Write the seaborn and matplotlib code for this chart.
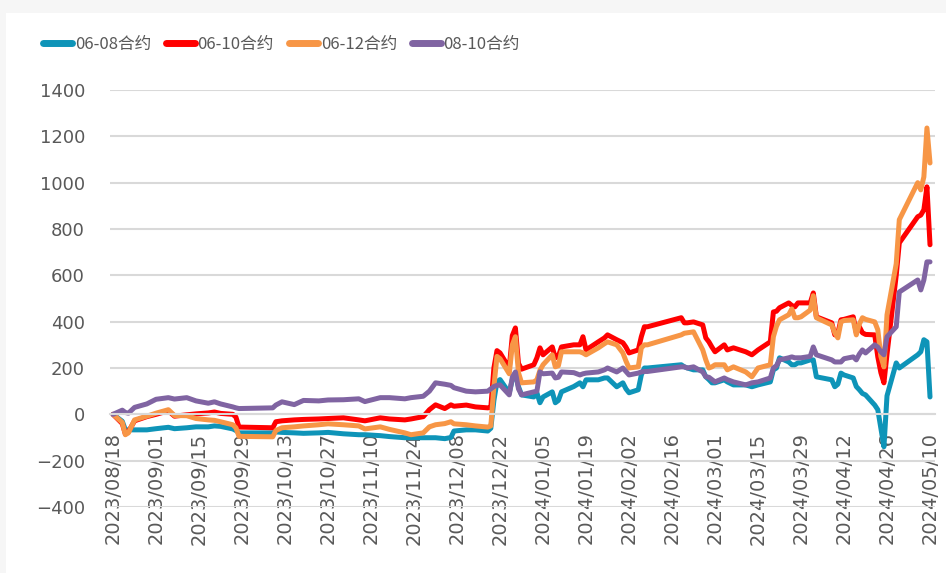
import pandas as pd
import matplotlib
matplotlib.use("Agg")
import matplotlib.pyplot as plt
import matplotlib.dates as mdates
from matplotlib.lines import Line2D
from matplotlib.patches import Rectangle
import seaborn as sns

# 交易日 (取关键点)
dates = [
    '2023-08-18', '2023-08-21', '2023-08-22', '2023-08-23', '2023-08-25', '2023-08-29',
    '2023-09-01', '2023-09-05', '2023-09-07', '2023-09-11', '2023-09-14', '2023-09-18',
    '2023-09-20', '2023-09-22', '2023-09-26', '2023-09-27', '2023-09-28', '2023-10-09',
    '2023-10-10', '2023-10-12', '2023-10-16', '2023-10-19', '2023-10-24', '2023-10-27',
    '2023-11-01', '2023-11-06', '2023-11-08', '2023-11-13', '2023-11-16', '2023-11-21',
    '2023-11-23', '2023-11-27', '2023-11-29', '2023-12-01', '2023-12-04', '2023-12-06',
    '2023-12-07', '2023-12-11', '2023-12-14', '2023-12-18', '2023-12-19', '2023-12-20',
    '2023-12-21', '2023-12-22', '2023-12-25', '2023-12-26', '2023-12-27', '2023-12-28',
    '2023-12-29', '2024-01-02', '2024-01-03', '2024-01-04', '2024-01-05', '2024-01-08',
    '2024-01-09', '2024-01-10', '2024-01-11', '2024-01-15', '2024-01-17', '2024-01-18',
    '2024-01-19', '2024-01-23', '2024-01-25', '2024-01-26', '2024-01-29', '2024-01-31',
    '2024-02-01', '2024-02-02', '2024-02-05', '2024-02-06', '2024-02-07', '2024-02-08',
    '2024-02-19', '2024-02-20', '2024-02-21', '2024-02-23', '2024-02-26', '2024-02-27',
    '2024-02-28', '2024-02-29', '2024-03-01', '2024-03-04', '2024-03-05', '2024-03-07',
    '2024-03-11', '2024-03-13', '2024-03-15', '2024-03-19', '2024-03-20', '2024-03-21',
    '2024-03-22', '2024-03-25', '2024-03-26', '2024-03-27', '2024-03-28', '2024-03-29',
    '2024-04-01', '2024-04-02', '2024-04-03', '2024-04-08', '2024-04-09', '2024-04-10',
    '2024-04-11', '2024-04-12', '2024-04-15', '2024-04-16', '2024-04-17', '2024-04-18',
    '2024-04-19', '2024-04-22', '2024-04-23', '2024-04-24', '2024-04-25', '2024-04-26',
    '2024-04-29', '2024-04-30', '2024-05-06', '2024-05-07', '2024-05-08', '2024-05-09',
    '2024-05-10',
]

spread_0608 = [
    0, -30, -67, -67, -67, -67,
    -62, -56, -62, -58, -54, -54,
    -50, -52, -63, -70, -80, -80,
    -76, -78, -80, -82, -80, -78,
    -84, -88, -88, -92, -96, -101,
    -101, -101, -101, -101, -105, -100,
    -72, -67, -67, -72, -60, 60,
    140, 150, 93, 150, 178, 120,
    84, 75, 93, 50, 75, 97,
    50, 60, 97, 120, 136, 119,
    149, 149, 157, 157, 119, 136,
    110, 93, 106, 170, 200, 200,
    214, 205, 200, 192, 192, 162,
    150, 136, 136, 149, 140, 127,
    127, 119, 127, 140, 192, 200,
    244, 226, 214, 214, 222, 222,
    235, 235, 162, 149, 119, 130,
    178, 170, 157, 120, 106, 90,
    84, 40, 20, -60, -140, 80,
    222, 200, 257, 270, 322, 313,
    75,
]

spread_0610 = [
    0, -40, -85, -75, -28, -10,
    0, 15, -8, -2, 2, 6,
    10, 4, 0, -12, -55, -58,
    -32, -28, -24, -22, -20, -18,
    -15, -24, -28, -15, -20, -24,
    -20, -10, 20, 41, 25, 41,
    35, 40, 32, 28, 30, 200,
    275, 265, 200, 340, 373, 220,
    195, 214, 244, 287, 257, 291,
    244, 250, 291, 300, 300, 335,
    278, 313, 330, 343, 322, 309,
    290, 265, 278, 335, 378, 378,
    417, 395, 395, 399, 386, 330,
    313, 290, 270, 300, 278, 287,
    270, 257, 278, 313, 442, 445,
    460, 481, 470, 464, 481, 481,
    481, 524, 421, 395, 343, 350,
    408, 410, 421, 352, 378, 352,
    345, 343, 248, 180, 136, 260,
    600, 740, 853, 860, 883, 982,
    732,
]

spread_0612 = [
    0, -35, -88, -80, -24, -8,
    5, 20, -5, -6, -18, -24,
    -26, -32, -45, -58, -95, -97,
    -70, -58, -54, -50, -45, -41,
    -45, -50, -63, -54, -65, -80,
    -88, -80, -54, -45, -40, -32,
    -41, -45, -50, -55, -50, 120,
    250, 240, 175, 300, 335, 180,
    136, 140, 149, 190, 214, 257,
    205, 210, 270, 270, 270, 265,
    257, 287, 305, 313, 300, 265,
    230, 200, 205, 287, 300, 300,
    343, 350, 352, 356, 278, 235,
    200, 205, 214, 214, 192, 205,
    183, 162, 200, 214, 335, 380,
    408, 430, 455, 417, 417, 421,
    450, 512, 417, 386, 352, 330,
    399, 405, 408, 343, 390, 417,
    410, 399, 365, 250, 205, 430,
    650, 840, 1000, 969, 1025, 1236,
    1085,
]

spread_0810 = [
    0, 18, 8, 5, 30, 45,
    65, 72, 66, 72, 58, 48,
    54, 45, 32, 28, 25, 28,
    40, 54, 42, 60, 58, 62,
    63, 67, 55, 72, 72, 67,
    72, 78, 100, 136, 130, 125,
    115, 100, 97, 100, 110, 120,
    125, 127, 84, 160, 183, 110,
    84, 97, 100, 183, 175, 178,
    157, 160, 183, 180, 170, 175,
    178, 183, 192, 200, 183, 200,
    185, 170, 178, 183, 185, 185,
    205, 205, 200, 205, 183, 162,
    160, 150, 140, 157, 150, 140,
    127, 136, 140, 157, 200, 210,
    235, 244, 248, 244, 244, 244,
    250, 291, 257, 235, 226, 226,
    226, 240, 248, 235, 260, 278,
    265, 300, 290, 270, 257, 335,
    378, 528, 580, 537, 580, 658,
    658,
]

series_names = ['06-08合约', '06-10合约', '06-12合约', '08-10合约']
colors = ['#0e94b8', '#ff0000', '#f79646', '#8064a2']

sns.set_style('white')
plt.rcParams['font.family'] = ['DejaVu Sans', 'Noto Sans CJK SC']

wide = pd.DataFrame({
    'date': pd.to_datetime(dates),
    '06-08合约': spread_0608,
    '06-10合约': spread_0610,
    '06-12合约': spread_0612,
    '08-10合约': spread_0810,
})
df = wide.melt(id_vars='date', var_name='合约', value_name='价差')

fig = plt.figure(figsize=(9.46, 5.73), dpi=100)
fig.patch.set_facecolor('#f6f6f6')
fig.patches.append(Rectangle((6 / 946, 0), 1, 1 - 13 / 573, transform=fig.transFigure,
                             facecolor='white', edgecolor='none', zorder=-1))

ax = fig.add_axes([110 / 946, 1 - 507 / 573, 825 / 946, 417 / 573])
ax.set_facecolor('none')
sns.lineplot(data=df, x='date', y='价差', hue='合约', hue_order=series_names,
             palette=colors, linewidth=3.6, legend=False, ax=ax)

ax.set_ylim(-400, 1400)
ax.set_yticks(range(-400, 1401, 200))
ax.set_xlim(pd.Timestamp('2023-08-17'), pd.Timestamp('2024-05-11 15:00'))
ax.set_xticks(pd.date_range('2023-08-18', '2024-05-10', freq='14D'))
ax.xaxis.set_major_formatter(mdates.DateFormatter('%Y/%m/%d'))
ax.set_xlabel('')
ax.set_ylabel('')

ax.yaxis.grid(True, color='#d9d9d9', linewidth=1.5)
ax.xaxis.grid(False)
ax.set_axisbelow(True)
for side in ['left', 'top', 'right']:
    ax.spines[side].set_visible(False)
ax.spines['bottom'].set_position(('data', 0))
ax.spines['bottom'].set_color('#d9d9d9')
ax.spines['bottom'].set_linewidth(1.5)

ax.tick_params(axis='x', direction='out', length=6, width=1.2, color='#d9d9d9',
               labelsize=14, labelcolor='#595959', pad=7, labelrotation=90)
ax.tick_params(axis='y', length=0, labelsize=13, labelcolor='#595959', pad=18)

handles = [Line2D([0], [0], color=c, linewidth=5, solid_capstyle='round') for c in colors]
fig.legend(handles, series_names, loc='center left', bbox_to_anchor=(43 / 946, 1 - 44 / 573),
           ncol=4, frameon=False, labelcolor='#595959',
           prop={'family': ['Noto Sans CJK SC'], 'size': 12},
           handlelength=1.75, handletextpad=0.15, columnspacing=0.9,
           borderpad=0, borderaxespad=0)

fig.savefig('out.png', dpi=100)
